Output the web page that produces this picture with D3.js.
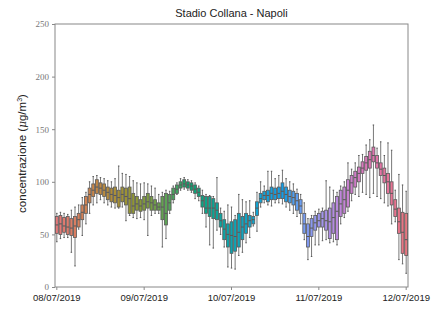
<!DOCTYPE html>
<html>
<head>
<meta charset="UTF-8"/>
<title>Stadio Collana - Napoli</title>
<script src="https://cdn.jsdelivr.net/npm/d3@7"></script>
<style>
body { margin: 0; background: #fff; }
svg { display: block; }
.title { font-family: 'Liberation Sans', Arial, sans-serif; font-size: 11px; fill: #222; }
.ylabel { font-family: 'Liberation Sans', Arial, sans-serif; font-size: 11.5px; fill: #222; }
.yaxis text { font-family: 'Liberation Serif', 'DejaVu Serif', serif; font-size: 9px; fill: #777; }
.xaxis text { font-family: 'Liberation Sans', Arial, sans-serif; font-size: 9.5px; fill: #222; }
.yaxis path, .xaxis path { display: none; }
.yaxis line, .xaxis line { stroke: #888; }
</style>
</head>
<body>
<svg width="435" height="311"></svg>
<script>
// hourly boxes, 08/07/2019 00:00 -> 12/07/2019 00:00
const q3 = [67,68,66,67,65,67,70,78,86,94,98,102,99,98,95,94,95,92,95,94,95,89,86,83,
  86,89,86,83,80,86,89,88,94,97,100,102,100,99,97,94,87,86,86,84,80,70,64,60,
  62,64,70,67,70,68,67,81,89,91,92,95,94,95,99,95,92,91,89,83,70,60,65,68,
  70,72,73,75,80,86,92,95,102,106,110,114,119,124,129,133,125,118,113,108,100,83,75,71,70];
const q1 = [51,50,52,50,49,47,57,64,70,80,86,89,88,86,83,81,80,76,81,78,70,70,73,72,
  73,75,73,73,73,64,59,73,83,89,94,95,94,92,89,86,76,70,67,65,64,57,45,38,
  32,34,38,45,51,57,60,68,80,83,81,83,83,84,84,81,80,78,73,70,51,38,48,54,
  57,57,54,46,51,45,67,70,76,89,95,100,108,111,113,119,113,106,99,89,78,67,51,32,30];
const med = [59,60,58,57,56,58,64,71,78,88,92,95,94,92,90,88,87,85,88,86,84,77,79,77,
  79,81,80,78,76,76,70,80,88,93,97,98,97,96,93,90,82,75,75,75,73,63,55,50,
  49,48,52,57,60,63,64,75,84,87,87,89,88,89,91,88,86,85,82,77,60,48,56,61,
  63,65,63,62,66,72,79,83,92,99,104,108,113,118,121,125,118,112,106,100,89,74,62,52,45];
const hi = [70,71,70,69,73,76,78,85,90,100,105,106,104,103,101,100,103,115,108,107,105,101,99,98,
  99,98,96,94,88,90,92,91,96,99,103,104,102,101,99,96,92,88,87,86,104,75,72,78,
  76,68,88,83,81,82,71,90,100,96,110,110,103,106,111,103,100,98,93,88,80,65,68,72,
  74,75,101,95,92,90,96,100,118,112,118,125,126,135,140,154,132,138,125,137,130,92,107,97,91];
const lo = [43,46,47,47,33,20,55,49,60,70,78,80,83,80,78,76,75,75,76,63,68,66,65,66,
  64,49,68,70,70,38,46,70,80,88,92,93,92,90,84,82,70,57,40,37,54,50,38,19,
  18,17,30,33,42,47,58,53,76,80,78,77,80,80,79,76,73,70,67,60,45,26,29,40,
  40,44,45,42,43,40,60,66,72,82,88,86,90,88,85,89,86,84,80,77,60,62,26,22,13];
const tickIdx = [0, 24, 48, 72, 96];
const tickLabels = ['08/07/2019', '09/07/2019', '10/07/2019', '11/07/2019', '12/07/2019'];
const yTicks = [0, 50, 100, 150, 200, 250];

const svg = d3.select('svg');
const mLeft = 55, mRight = 408, mTop = 24, mBottom = 287;

const x = d3.scaleBand()
  .domain(d3.range(q3.length))
  .range([mLeft, mRight])
  .paddingInner(0.2)
  .paddingOuter(0.1);

const y = d3.scaleLinear()
  .domain([0, 250])
  .range([mBottom, mTop]);

// husl-like palette, a bit desaturated
const n = q3.length;
const color = i => {
  const c = d3.hsl(d3.hcl(25 + 360 * i / n, 56, 63).rgb().clamp());
  c.s = c.s * 0.85;
  return c.formatHex();
};

// frame
svg.append('rect')
  .attr('x', mLeft).attr('y', mTop)
  .attr('width', mRight - mLeft).attr('height', mBottom - mTop)
  .attr('fill', 'none').attr('stroke', '#888').attr('stroke-width', 1);

const boxes = svg.append('g').selectAll('g')
  .data(d3.range(n))
  .enter().append('g');

const bw = x.bandwidth();
const cx = i => x(i) + bw / 2;
const edge = '#585858';

boxes.append('line')
  .attr('x1', cx).attr('x2', cx)
  .attr('y1', i => y(hi[i])).attr('y2', i => y(q3[i]))
  .attr('stroke', '#787878').attr('stroke-width', 1);
boxes.append('line')
  .attr('x1', cx).attr('x2', cx)
  .attr('y1', i => y(q1[i])).attr('y2', i => y(lo[i]))
  .attr('stroke', '#787878').attr('stroke-width', 1);
boxes.append('line')
  .attr('x1', i => cx(i) - bw / 4).attr('x2', i => cx(i) + bw / 4)
  .attr('y1', i => y(hi[i])).attr('y2', i => y(hi[i]))
  .attr('stroke', edge).attr('stroke-width', 1);
boxes.append('line')
  .attr('x1', i => cx(i) - bw / 4).attr('x2', i => cx(i) + bw / 4)
  .attr('y1', i => y(lo[i])).attr('y2', i => y(lo[i]))
  .attr('stroke', edge).attr('stroke-width', 1);
boxes.append('rect')
  .attr('x', i => x(i))
  .attr('y', i => y(q3[i]))
  .attr('width', bw)
  .attr('height', i => y(q1[i]) - y(q3[i]))
  .attr('fill', i => color(i))
  .attr('stroke', edge).attr('stroke-width', 0.8);
boxes.append('line')
  .attr('x1', i => x(i)).attr('x2', i => x(i) + bw)
  .attr('y1', i => y(med[i])).attr('y2', i => y(med[i]))
  .attr('stroke', edge).attr('stroke-width', 1);

svg.append('g')
  .attr('class', 'yaxis')
  .attr('transform', `translate(${mLeft},0)`)
  .call(d3.axisLeft(y).tickValues(yTicks).tickSize(3).tickPadding(3));

svg.append('g')
  .attr('class', 'xaxis')
  .attr('transform', `translate(0,${mBottom})`)
  .call(d3.axisBottom(x).tickValues(tickIdx).tickSize(3).tickPadding(4)
    .tickFormat(d => tickLabels[tickIdx.indexOf(d)]));

svg.append('text')
  .attr('class', 'title')
  .attr('x', (mLeft + mRight) / 2)
  .attr('y', 17)
  .attr('text-anchor', 'middle')
  .text('Stadio Collana - Napoli');

const yl = svg.append('text')
  .attr('class', 'ylabel')
  .attr('transform', `translate(26,${(mTop + mBottom) / 2 - 2}) rotate(-90)`)
  .attr('text-anchor', 'middle');
yl.append('tspan').text('concentrazione (');
yl.append('tspan').attr('font-style', 'italic').attr('font-family', "'DejaVu Serif', serif").attr('font-size', '10.5px').text('μ');
yl.append('tspan').text('g/m');
yl.append('tspan').attr('font-size', '7px').attr('dy', -4).text('3');
yl.append('tspan').attr('dy', 4).text(')');
</script>
</body>
</html>
